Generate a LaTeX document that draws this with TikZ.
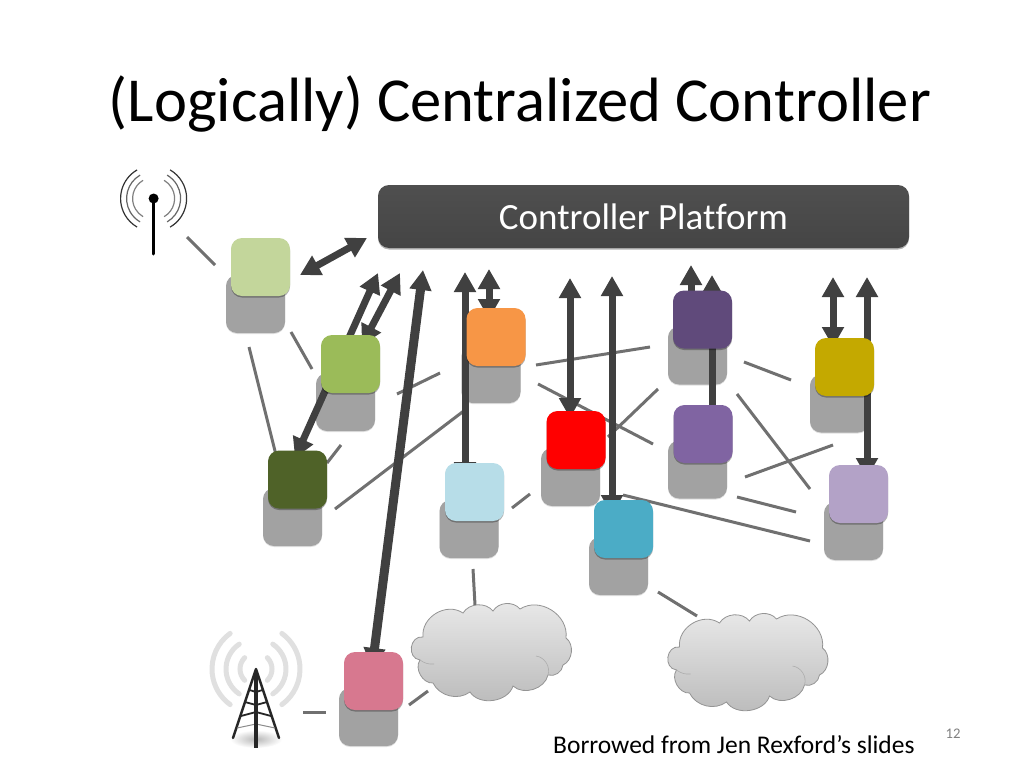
\documentclass[tikz,border=0pt]{standalone}
\usepackage{fontspec}
\setmainfont[Ligatures=NoCommon]{Carlito}
\usetikzlibrary{arrows.meta,shadows}
\definecolor{dk}{HTML}{404040}
\definecolor{lnk}{HTML}{707070}
\definecolor{backg}{HTML}{A2A2A2}
\definecolor{c1}{HTML}{C3D69B}
\definecolor{c2}{HTML}{9BBB59}
\definecolor{c3}{HTML}{F79646}
\definecolor{c4}{HTML}{604A7B}
\definecolor{c5}{HTML}{8064A2}
\definecolor{c6}{HTML}{C4A900}
\definecolor{c7}{HTML}{4F6228}
\definecolor{c8}{HTML}{B7DDE8}
\definecolor{c9}{HTML}{FF0000}
\definecolor{c10}{HTML}{4BACC6}
\definecolor{c11}{HTML}{B3A2C7}
\definecolor{c12}{HTML}{D7788F}
\tikzset{
  x=1pt,y=-1pt,
  back/.style={rounded corners=11pt,fill=backg,minimum width=59pt,minimum height=58pt,inner sep=0pt,drop shadow={shadow xshift=0pt,shadow yshift=-1pt,fill=black,opacity=.12}},
  sq/.style={rounded corners=11pt,fill=#1,minimum width=59pt,minimum height=58pt,inner sep=0pt,drop shadow={shadow xshift=0pt,shadow yshift=-1.5pt,fill=black,opacity=.3}},
  link/.style={draw=lnk,line width=3pt},
  both/.style={draw=dk,line width=7pt,{Triangle[length=20pt,width=21pt]}-{Triangle[length=20pt,width=21pt]}},
  thick arrow/.style={both,line width=9pt},
  cloudy/.style={draw=black!42,line width=0.8pt,top color=black!8,bottom color=black!27},
  cloudin/.style={draw=black!32,line width=0.6pt},
  wavegray/.style={draw=black!12,line width=5pt},
}
\newcommand{\cloudshape}[2]{%
  \begin{scope}[shift={(#1,#2)}]
  \path[cloudy] (423,637) to[bend left=65,looseness=1.1] (463,613) to[bend left=55] (493,611) to[bend left=55] (520,609) to[bend left=65,looseness=1.1] (566,638) to[bend left=60] (563,665) to[bend left=50] (548,675) to[bend left=60] (513,686) to[bend left=65] (470,692) to[bend left=50] (433,683) to[bend left=65] (420,660) to[bend left=90,looseness=1.5] cycle;
  \draw[cloudin] (536,656) to[bend left=50] (548,675) (420,660) to[bend right=20] (434,664);
  \end{scope}}
\begin{document}
\begin{tikzpicture}
\useasboundingbox (0,0) rectangle (1024,768);
\fill[white] (0,0) rectangle (1024,768);

\node[anchor=base,font=\fontsize{62.6}{70}\selectfont] (title) at (520,121) {(Logically) Centralized Controller};

% controller platform
\node[rounded corners=11pt,minimum width=531pt,minimum height=63pt,inner sep=0pt,top color=black!69,bottom color=black!73,drop shadow={shadow xshift=0pt,shadow yshift=-1.5pt,fill=black,opacity=.3},text=white,font=\fontsize{37}{42}\selectfont] (ctrl) at (643.5,216.5) {Controller Platform};

% gray back squares
\node[back] (b1) at (255.5,304) {};
\node[back] (b2) at (345.5,402) {};
\node[back] (b3) at (491,374) {};
\node[back] (b4) at (697.5,355.5) {};
\node[back] (b5) at (697.5,469.5) {};
\node[back] (b6) at (839.5,403.5) {};
\node[back] (b7) at (292.5,517) {};
\node[back] (b8) at (469,529) {};
\node[back] (b9) at (570.5,477) {};
\node[back] (b10) at (618.5,566) {};
\node[back] (b11) at (853.5,531) {};
\node[back] (b12) at (368.5,717) {};

% clouds
\cloudshape{0}{0}
\cloudshape{256.5}{10}

% free ends of links
\coordinate (l1a) at (187,237); \coordinate (l1b) at (215,265);
\coordinate (l2a) at (291,332); \coordinate (l2b) at (312,369);
\coordinate (l3a) at (249,347); \coordinate (l3b) at (276,455);
\coordinate (l4a) at (327,463); \coordinate (l4b) at (341,445);
\coordinate (l5a) at (397,394); \coordinate (l5b) at (440,373);
\coordinate (l6a) at (335,509); \coordinate (l6b) at (465,410);
\coordinate (l7a) at (536,365); \coordinate (l7b) at (650,347);
\coordinate (l8a) at (538,384); \coordinate (l8b) at (653,444);
\coordinate (l9a) at (608,437); \coordinate (l9b) at (658,389);
\coordinate (l10a) at (512,508); \coordinate (l10b) at (530,494);
\coordinate (l11a) at (623,495); \coordinate (l11b) at (810,541);
\coordinate (l12a) at (744,362); \coordinate (l12b) at (791,380);
\coordinate (l13a) at (737,394); \coordinate (l13b) at (810,489);
\coordinate (l14a) at (745,477); \coordinate (l14b) at (833,445);
\coordinate (l15a) at (737,497); \coordinate (l15b) at (796,512);
\coordinate (l16a) at (473,569); \coordinate (l16b) at (475,605);
\coordinate (l17a) at (658,592); \coordinate (l17b) at (697,616);
\coordinate (l18a) at (303,712); \coordinate (l18b) at (326,712);
\coordinate (l19a) at (409,705); \coordinate (l19b) at (428,691);
\foreach \i in {1,...,19} \draw[link] (l\i a) -- (l\i b);

% control arrows
\coordinate (a1a) at (300,275); \coordinate (a1b) at (367,238);
\coordinate (a2a) at (378,273); \coordinate (a2b) at (295,458);
\coordinate (a3a) at (400,273); \coordinate (a3b) at (362,345);
\coordinate (a5a) at (465,272); \coordinate (a5b) at (465,482);
\coordinate (a6a) at (489,269); \coordinate (a6b) at (489,319);
\coordinate (a7a) at (570,278); \coordinate (a7b) at (570,418);
\coordinate (a8a) at (612,276); \coordinate (a8b) at (612,515);
\coordinate (a9a) at (691,265); \coordinate (a9b) at (691,330);
\coordinate (a10a) at (712,275); \coordinate (a10b) at (712,425);
\coordinate (a11a) at (833,277); \coordinate (a11b) at (833,347);
\coordinate (a12a) at (867,277); \coordinate (a12b) at (867,478);
\coordinate (a4a) at (423,270); \coordinate (a4b) at (372,668);
\foreach \i in {1,2,3,5,6,7,8,9,10,11,12} \draw[both] (a\i a) -- (a\i b);
\draw[thick arrow] (a4a) -- (a4b);

% coloured squares
\node[sq=c1] (s1) at (260.5,267) {};
\node[sq=c2] (s2) at (350.5,364) {};
\node[sq=c3] (s3) at (496,337) {};
\node[sq=c4] (s4) at (702.5,319.5) {};
\node[sq=c5] (s5) at (703,434) {};
\node[sq=c6] (s6) at (844.5,367) {};
\node[sq=c7] (s7) at (297.5,479.5) {};
\node[sq=c8] (s8) at (474.5,492) {};
\node[sq=c9] (s9) at (576,440) {};
\node[sq=c10] (s10) at (623.5,529) {};
\node[sq=c11] (s11) at (858.5,494) {};
\node[sq=c12] (s12) at (373.5,681) {};

% wireless access point
\coordinate (apc) at (153.6,198.5);
\foreach \r/\c/\w in {33/black!80/1.2,27/black!60/1.2,21/black!50/1.2}{
  \draw[draw=\c,line width=\w pt] (apc) ++(120:\r pt) arc[start angle=120,end angle=240,radius=\r pt];
  \draw[draw=\c,line width=\w pt] (apc) ++(-60:\r pt) arc[start angle=-60,end angle=60,radius=\r pt];
}
\draw[line width=3pt,black,line cap=round] (apc) -- (153.6,254);
\fill[black] (apc) circle[radius=5pt];

% cell tower
\coordinate (twc) at (256,669);
\foreach \r/\a in {16/45,30/56,44/54}{
  \draw[wavegray,line cap=round] (twc) ++(180-\a:\r pt) arc[start angle=180-\a,end angle=180+\a,radius=\r pt];
  \draw[wavegray,line cap=round] (twc) ++(-\a:\r pt) arc[start angle=-\a,end angle=\a,radius=\r pt];
}
\shade[inner color=black!28,outer color=white] (256,739) ellipse[x radius=26pt,y radius=9pt];
\draw[line width=2.4pt,black!85,line join=round,line cap=round] (233,738) -- (256,669) -- (279,738);
\draw[line width=1.8pt,black!85] (249.5,690) -- (256,692) -- (262.5,690) (245,702) -- (256,705) -- (267,702) (241,716) -- (256,712) -- (271,716);
\draw[line width=1pt,black!45] (237,728) -- (256,724) -- (275,728);
\draw[line width=4pt,black!85] (256,672) -- (256,748);

% footer
\node[anchor=base west,inner sep=0pt,font=\fontsize{25.5}{29}\selectfont] (credit) at (553,753) {Borrowed from Jen Rexford’s slides};
\node[anchor=base,inner sep=0pt,text=black!50,font=\fontsize{14.7}{17}\selectfont] (pageno) at (953,738) {12};
\end{tikzpicture}
\end{document}
